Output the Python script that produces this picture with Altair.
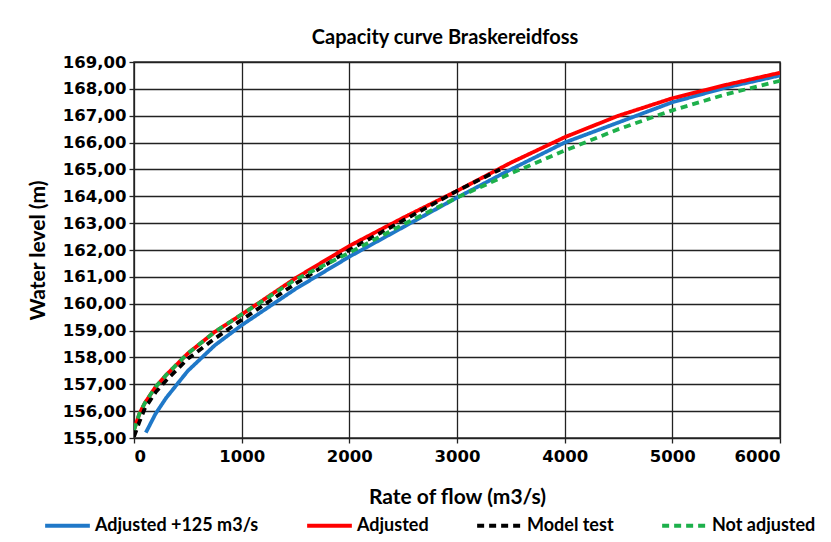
import altair as alt
import pandas as pd

# Rate of flow (m3/s) and water level (m)
adj125_q = [110, 200, 300, 500, 750, 1000, 1500, 2000, 2500, 3000, 3500, 4000, 4500, 5000, 5500, 6000]
adj125_h = [155.2, 155.9, 156.5, 157.5, 158.45, 159.2, 160.55, 161.75, 162.85, 163.95, 165.0, 166.0, 166.75, 167.5, 168.05, 168.5]

adj_q = [0, 50, 100, 200, 300, 500, 750, 1000, 1500, 2000, 2500, 3000, 3500, 4000, 4500, 5000, 5500, 6000]
adj_h = [155.3, 155.9, 156.3, 156.9, 157.35, 158.15, 158.95, 159.6, 160.95, 162.15, 163.2, 164.2, 165.25, 166.2, 167.0, 167.65, 168.15, 168.6]

model_q = [0, 50, 100, 200, 300, 500, 750, 1000, 1500, 2000, 2500, 3000, 3400]
model_h = [155.05, 155.6, 156.1, 156.7, 157.15, 157.95, 158.7, 159.4, 160.75, 162.0, 163.1, 164.2, 165.0]

notadj_q = [0, 50, 100, 200, 300, 500, 750, 1000, 1500, 2000, 2500, 3000, 3500, 4000, 4500, 5000, 5500, 6000]
notadj_h = [155.3, 155.9, 156.3, 156.9, 157.35, 158.15, 158.95, 159.6, 160.9, 161.9, 162.95, 163.95, 164.85, 165.7, 166.5, 167.2, 167.8, 168.3]

series_names = ["Adjusted +125 m3/s", "Adjusted", "Model test", "Not adjusted"]
series_colors = ["#1f78c8", "#ff0000", "#000000", "#1db04b"]
series_dash = [[1, 0], [1, 0], [7, 5], [7, 5]]

rows = []
for name, qs, hs in zip(series_names,
                        [adj125_q, adj_q, model_q, notadj_q],
                        [adj125_h, adj_h, model_h, notadj_h]):
    for i, (q, h) in enumerate(zip(qs, hs)):
        rows.append({"series": name, "q": q, "h": h, "i": i})
df = pd.DataFrame(rows)

tick_font = "DejaVu Sans"
text_font = "Lato"

chart = alt.Chart(df).mark_line(strokeWidth=3.8, clip=True).encode(
    x=alt.X("q:Q", scale=alt.Scale(domain=[0, 6000], nice=False),
            axis=alt.Axis(values=[0, 1000, 2000, 3000, 4000, 5000, 6000],
                          title="Rate of flow (m3/s)", format="d",
                          titlePadding=22)),
    y=alt.Y("h:Q", scale=alt.Scale(domain=[155, 169], nice=False, zero=False),
            axis=alt.Axis(values=list(range(155, 170)),
                          labelExpr="replace(format(datum.value, '.2f'), '.', ',')",
                          title="Water level (m)", titlePadding=14)),
    color=alt.Color("series:N", scale=alt.Scale(domain=series_names, range=series_colors),
                    legend=alt.Legend(title=None, orient="none", direction="horizontal",
                                      legendX=-91, legendY=439, symbolType="stroke",
                                      symbolSize=2000, symbolStrokeWidth=4,
                                      labelFont=text_font, labelFontSize=18,
                                      labelFontWeight="bold", labelColor="#000",
                                      labelLimit=0, columnPadding=40, labelOffset=3)),
    strokeDash=alt.StrokeDash("series:N", scale=alt.Scale(domain=series_names, range=series_dash),
                              legend=None),
    order="i:Q",
).properties(
    width=646, height=376,
    title=alt.Title("Capacity curve Braskereidfoss", font=text_font, fontSize=20,
                    fontWeight="bold", color="#000", offset=6, dx=-12),
    autosize=alt.AutoSizeParams(type="none"),
    padding={"left": 126, "top": 54, "right": 40, "bottom": 96},
).configure_view(stroke="#333", strokeWidth=1.5).configure_axis(
    grid=True, gridColor="#222", gridWidth=1.3, domain=False,
    ticks=True, tickSize=5, tickColor="#222", tickWidth=1.3,
    labelFont=tick_font, labelFontSize=16.5, labelFontWeight="bold",
    labelColor="#000", titleFont=text_font, titleFontSize=21, titleFontWeight="bold",
    titleColor="#000", labelPadding=3
).configure_axisX(labelPadding=5)

chart.save("out.html", embed_options={"renderer": "svg", "actions": False})
